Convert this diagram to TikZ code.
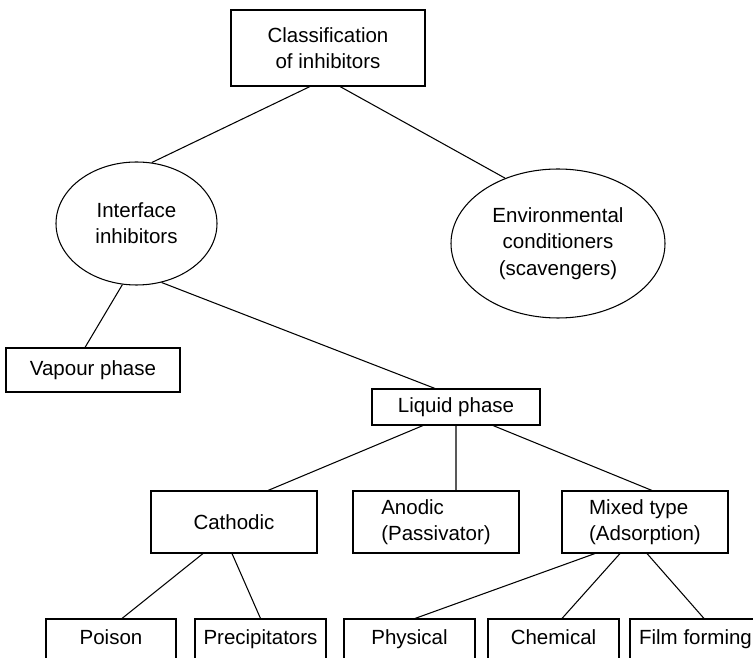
\documentclass[tikz,border=0pt]{standalone}
\usepackage{fontspec}
\setmainfont{Liberation Sans}
\usetikzlibrary{shapes.geometric}

\begin{document}
\begin{tikzpicture}[
        box/.style={rectangle, draw, line width=0.9pt, align=center, inner sep=0pt, font=\fontsize{17.5}{22.5}\selectfont},
        oval/.style={ellipse, draw, line width=0.9pt, align=center, inner sep=0pt, font=\fontsize{17.5}{22.5}\selectfont},
        kind/.style={box, minimum width=4.98cm, minimum height=1.86cm},
        leaf/.style={box, minimum width=3.93cm, minimum height=1.2cm, text height=12.6pt, text depth=3.7pt},
        link/.style={line width=0.9pt}
    ]
        \useasboundingbox (0,0) rectangle (22.59,19.74);

        % Root
        \node[box, minimum width=5.82cm, minimum height=2.28cm] (root) at (9.84,18.3) {Classification\\of inhibitors};

        % Main groups
        \node[oval, minimum width=4.83cm, minimum height=3.69cm] (iface) at (4.095,13.035) {Interface\\inhibitors};
        \node[oval, minimum width=6.42cm, minimum height=4.47cm] (env) at (16.74,12.435) {Environmental\\conditioners\\(scavengers)};

        % Phases
        \node[box, minimum width=5.22cm, minimum height=1.32cm] (vapour) at (2.79,8.64) {Vapour phase};
        \node[box, minimum width=5.04cm, minimum height=1.08cm] (liquid) at (13.68,7.53) {Liquid phase};

        % Inhibitor types
        \node[kind] (cathodic) at (7.02,4.08) {Cathodic};
        \node[kind, align=left] (anodic) at (13.08,4.08) {Anodic\\(Passivator)};
        \node[kind, align=left] (mixed) at (19.35,4.08) {Mixed type\\(Adsorption)};

        % Leaves
        \node[leaf, minimum width=3.9cm] (poison) at (3.33,0.57) {Poison};
        \node[leaf] (precip) at (7.815,0.57) {Precipitators};
        \node[leaf] (physical) at (12.285,0.57) {Physical};
        \node[leaf] (chemical) at (16.605,0.57) {Chemical};
        \node[leaf] (film) at (20.865,0.57) {Film forming};

        % Lines
        \draw[link] ([xshift=-0.54cm]root.south) -- (iface.76);
        \draw[link] ([xshift=0.36cm]root.south) -- (env.129);
        \draw[link] (iface.257) -- ([xshift=-0.24cm]vapour.north);
        \draw[link] (iface.293) -- ([xshift=-0.63cm]liquid.north);
        \draw[link] ([xshift=-0.99cm]liquid.south) -- ([xshift=1.02cm]cathodic.north);
        \draw[link] (liquid.south) -- ([xshift=0.6cm]anodic.north);
        \draw[link] ([xshift=1.11cm]liquid.south) -- ([xshift=0.21cm]mixed.north);
        \draw[link] ([xshift=-0.93cm]cathodic.south) -- ([xshift=0.33cm]poison.north);
        \draw[link] ([xshift=-0.06cm]cathodic.south) -- (precip.north);
        \draw[link] ([xshift=-1.5cm]mixed.south) -- ([xshift=0.165cm]physical.north);
        \draw[link] ([xshift=-0.75cm]mixed.south) -- ([xshift=0.255cm]chemical.north);
        \draw[link] ([xshift=0.06cm]mixed.south) -- ([xshift=0.255cm]film.north);
\end{tikzpicture}
\end{document}
